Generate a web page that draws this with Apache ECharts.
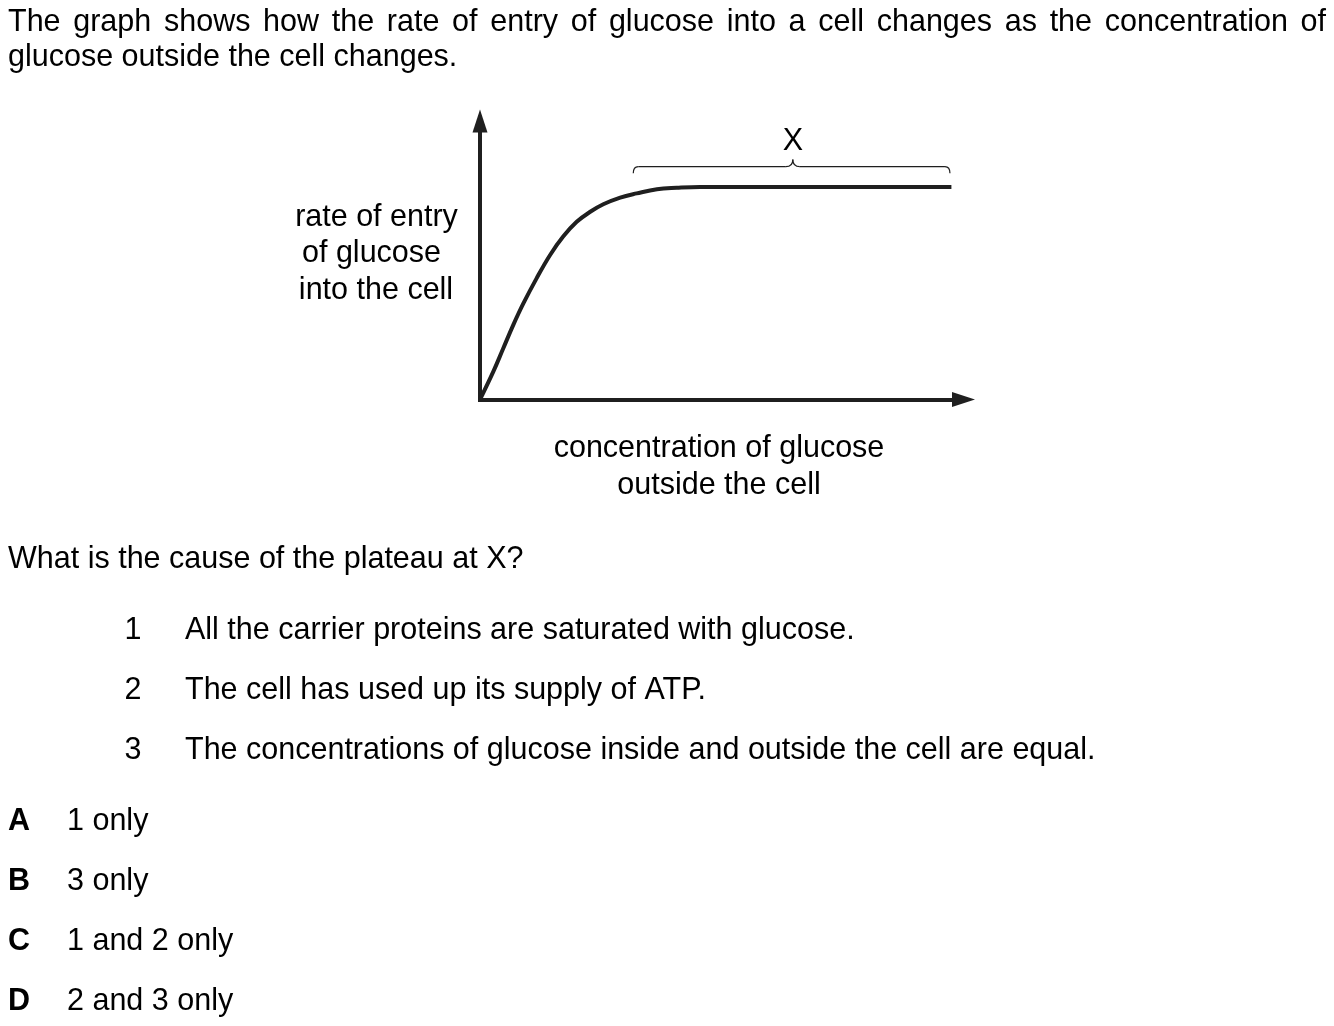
<!DOCTYPE html>
<html><head><meta charset="utf-8">
<script src="https://cdn.jsdelivr.net/npm/echarts@6/dist/echarts.min.js"></script>
<style>html,body{margin:0;padding:0;background:#fff}#main{width:1334px;height:1026px}</style>
</head><body><div id="main"></div>
<script>
// ---- data (arbitrary units 0-100) ----
const concentration = [0, 2.75, 4.82, 6.89, 8.97, 11.7, 14.5, 17.2, 20.0, 22.8, 25.5, 29.0, 32.4, 36.6, 40.7, 45.5, 97.5];
const entryRate     = [0, 10.0, 18.4, 26.8, 34.5, 43.5, 51.9, 58.5, 63.8, 67.4, 70.1, 72.5, 74.0, 75.5, 76.0, 76.3, 76.3];
// brace marking the plateau X: [start x, end x, tip x, end y, line y, tip y, label y]
const plateauBrace = [31.7, 97.2, 64.7, 81.2, 83.6, 86.2, 93.2];
const plateauLabel = 'X';

// ---- texts ----
const introLine1 = 'The graph shows how the rate of entry of glucose into a cell changes as the concentration of';
const introLine2 = 'glucose outside the cell changes.';
const yAxisLines = ['rate of entry', 'of glucose', 'into the cell'];
const xAxisLines = ['concentration of glucose', 'outside the cell'];
const question = 'What is the cause of the plateau at X?';
const statementNumbers = ['1', '2', '3'];
const statements = [
  'All the carrier proteins are saturated with glucose.',
  'The cell has used up its supply of ATP.',
  'The concentrations of glucose inside and outside the cell are equal.'
];
const optionLetters = ['A', 'B', 'C', 'D'];
const optionTexts = ['1 only', '3 only', '1 and 2 only', '2 and 3 only'];

const FAM = "'Liberation Sans', Arial, Helvetica, sans-serif";
const FS = 30.5;
const INK = '#1f1f1f';

function txt(text, x, y, align, bold) {
  return { type: 'text', x: x, y: y, silent: true,
    style: { text: text, fontSize: FS, fontFamily: FAM, fontWeight: bold ? 'bold' : 'normal',
      fill: '#000', align: align || 'left', verticalAlign: 'middle' } };
}

const graphics = [];
// justified first line
(function () {
  const ctx = document.createElement('canvas').getContext('2d');
  ctx.font = FS + 'px ' + FAM;
  const words = introLine1.split(' ');
  const widths = words.map(w => ctx.measureText(w).width);
  const total = widths.reduce((a, b) => a + b, 0);
  const left = 8, right = 1326;
  const gap = (right - left - total) / (words.length - 1);
  let x = left;
  words.forEach((w, i) => { graphics.push(txt(w, x, 23, 'left')); x += widths[i] + gap; });
})();
graphics.push(txt(introLine2, 8, 58, 'left'));
const yLabelCx = [376.5, 371.5, 376];
const yLabelCy = [218, 254, 291];
yAxisLines.forEach((t, i) => graphics.push(txt(t, yLabelCx[i], yLabelCy[i], 'center')));
const xLabelCy = [449, 486];
xAxisLines.forEach((t, i) => graphics.push(txt(t, 719, xLabelCy[i], 'center')));
graphics.push(txt(question, 8, 560, 'left'));
statements.forEach((t, i) => {
  graphics.push(txt(statementNumbers[i], 133, 631 + 60 * i, 'center'));
  graphics.push(txt(t, 185, 631 + 60 * i, 'left'));
});
optionLetters.forEach((t, i) => {
  graphics.push(txt(t, 8, 822 + 60 * i, 'left', true));
  graphics.push(txt(optionTexts[i], 67, 822 + 60 * i, 'left'));
});

const chart = echarts.init(document.getElementById('main'), null, { renderer: 'canvas' });
const axisCommon = {
  type: 'value', min: 0, max: 100,
  axisLine: { show: true, symbol: ['none', 'triangle'], symbolSize: [15, 23],
    lineStyle: { color: INK, width: 4, cap: 'square' } },
  axisTick: { show: false }, axisLabel: { show: false }, splitLine: { show: false }
};
chart.setOption({
  animation: false,
  backgroundColor: '#fff',
  grid: { left: 480, top: 121, width: 483.5, height: 278.5, containLabel: false, outerBoundsMode: 'none' },
  xAxis: Object.assign({}, axisCommon),
  yAxis: Object.assign({}, axisCommon),
  graphic: graphics,
  series: [
    {
      type: 'line',
      data: concentration.map((c, i) => [c, entryRate[i]]),
      smooth: 0.4,
      showSymbol: false, symbol: 'none',
      lineStyle: { color: INK, width: 4, cap: 'butt', join: 'round' },
      z: 3
    },
    {
      type: 'custom',
      data: [plateauBrace],
      encode: { x: [0, 1, 2], y: [3, 4, 5, 6] },
      renderItem: function (params, api) {
        const xs = api.value(0), xe = api.value(1), xt = api.value(2);
        const yEnd = api.value(3), yLine = api.value(4), yTip = api.value(5), yLab = api.value(6);
        const pL = api.coord([xs, yEnd]);
        const pR = api.coord([xe, yEnd]);
        const pLine = api.coord([xs, yLine]);
        const pTip = api.coord([xt, yTip]);
        const pLab = api.coord([xt, yLab]);
        const ly = pLine[1];
        const r = 5, rt = 7;
        const st = { stroke: INK, fill: 'none', lineWidth: 1.2 };
        return {
          type: 'group',
          children: [
            { type: 'bezierCurve', shape: { x1: pL[0], y1: pL[1], cpx1: pL[0], cpy1: ly, x2: pL[0] + r, y2: ly }, style: st },
            { type: 'line', shape: { x1: pL[0] + r, y1: ly, x2: pTip[0] - rt, y2: ly }, style: st },
            { type: 'bezierCurve', shape: { x1: pTip[0] - rt, y1: ly, cpx1: pTip[0], cpy1: ly, x2: pTip[0], y2: pTip[1] }, style: st },
            { type: 'bezierCurve', shape: { x1: pTip[0], y1: pTip[1], cpx1: pTip[0], cpy1: ly, x2: pTip[0] + rt, y2: ly }, style: st },
            { type: 'line', shape: { x1: pTip[0] + rt, y1: ly, x2: pR[0] - r, y2: ly }, style: st },
            { type: 'bezierCurve', shape: { x1: pR[0] - r, y1: ly, cpx1: pR[0], cpy1: ly, x2: pR[0], y2: pR[1] }, style: st },
            { type: 'text', x: pLab[0], y: pLab[1] + 2,
              style: { text: plateauLabel, fontSize: FS, fontFamily: FAM, fill: '#000', align: 'center', verticalAlign: 'middle' } }
          ]
        };
      },
      silent: true,
      z: 4
    }
  ]
});
</script>
</body></html>
